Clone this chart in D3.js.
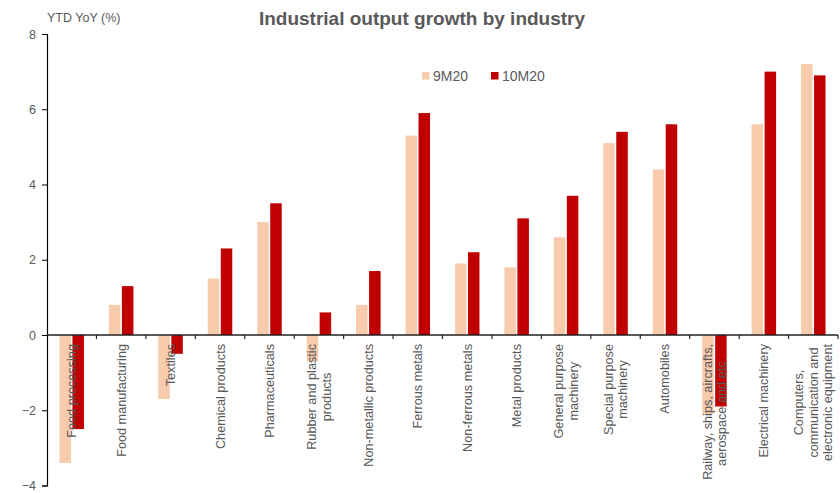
<!DOCTYPE html>
<html>
<head>
<meta charset="utf-8">
<script src="https://cdn.jsdelivr.net/npm/d3@7"></script>
<style>
  html, body { margin: 0; padding: 0; background: #fff; }
  svg { display: block; font-family: "Liberation Sans", Arial, sans-serif; }
</style>
</head>
<body>
<svg id="chart" width="840" height="493"></svg>
<script>
// Industry categories (line breaks split with "|")
const categories = [
  "Food processing",
  "Food manufacturing",
  "Textiles",
  "Chemical products",
  "Pharmaceuticals",
  "Rubber and plastic|products",
  "Non-metallic products",
  "Ferrous metals",
  "Non-ferrous metals",
  "Metal products",
  "General purpose|machinery",
  "Special purpose|machinery",
  "Automobiles",
  "Railway, ships, aircrafts,|aerospace and etc.",
  "Electrical machinery",
  "Computers,|communication and|electronic equipment"
];
const seriesNames = ["9M20", "10M20"];
const values9M20 = [-3.4, 0.8, -1.7, 1.5, 3.0, -0.7, 0.8, 5.3, 1.9, 1.8, 2.6, 5.1, 4.4, -2.1, 5.6, 7.2];
const values10M20 = [-2.5, 1.3, -0.5, 2.3, 3.5, 0.6, 1.7, 5.9, 2.2, 3.1, 3.7, 5.4, 5.6, -1.9, 7.0, 6.9];
const yTicks = [-4, -2, 0, 2, 4, 6, 8];
const colors = { "9M20": "#F8CBAD", "10M20": "#C00000" };

const svg = d3.select("#chart");
const textGray = "#595959";
const plot = { left: 47, right: 838, top: 34, bottom: 485.5 };

const x = d3.scaleBand().domain(categories).range([plot.left, plot.right]).padding(0);
const xInner = d3.scaleBand().domain(seriesNames).range([0, x.bandwidth()])
  .paddingInner(0.115).paddingOuter(0.96);
const y = d3.scaleLinear().domain([-4, 8]).range([plot.bottom, plot.top]);

const rows = categories.map((c, i) => ({
  cat: c,
  vals: [
    { key: "9M20", v: values9M20[i] },
    { key: "10M20", v: values10M20[i] }
  ]
}));

// Bars
const groups = svg.append("g").selectAll("g").data(rows).join("g")
  .attr("transform", d => `translate(${x(d.cat)},0)`);
groups.selectAll("rect").data(d => d.vals).join("rect")
  .attr("x", d => xInner(d.key))
  .attr("width", xInner.bandwidth())
  .attr("y", d => y(Math.max(0, d.v)))
  .attr("height", d => Math.abs(y(d.v) - y(0)))
  .attr("fill", d => colors[d.key]);

// Y axis
const yAxis = svg.append("g")
  .attr("transform", `translate(${plot.left},0)`)
  .call(d3.axisLeft(y).tickValues(yTicks).tickSize(5).tickPadding(6).tickFormat(d3.format("d")));
yAxis.select(".domain").attr("stroke", "#000").attr("stroke-width", 1.2);
yAxis.selectAll(".tick line").attr("stroke", "#000");
yAxis.selectAll(".tick text").attr("fill", textGray).attr("font-size", 12.5)
  .attr("font-family", "Liberation Sans, Arial, sans-serif");

// X axis along zero, ticks at category boundaries
const xAxisG = svg.append("g").attr("transform", `translate(0,${y(0)})`);
xAxisG.append("line")
  .attr("x1", plot.left).attr("x2", plot.right)
  .attr("stroke", "#222").attr("stroke-width", 1.5);
xAxisG.selectAll("line.tick").data(categories.slice(1).concat(["__end"]))
  .join("line").attr("class", "tick")
  .attr("x1", (d, i) => plot.left + (i + 1) * x.step())
  .attr("x2", (d, i) => plot.left + (i + 1) * x.step())
  .attr("y1", 0).attr("y2", 4)
  .attr("stroke", "#222").attr("stroke-width", 1.2);

// Rotated category labels, lines centred on one another
const labelTop = y(0) + 9;
const lineGap = 14.5;
const labels = svg.append("g").selectAll("text").data(categories).join("text")
  .attr("fill", textGray)
  .attr("font-size", 12.7)
  .attr("text-anchor", "middle");
labels.each(function (d) {
  const t = d3.select(this);
  const lines = d.split("|");
  lines.forEach(l => t.append("tspan").text(l));
  let maxLen = 0;
  t.selectAll("tspan").each(function () {
    maxLen = Math.max(maxLen, this.getComputedTextLength());
  });
  const cx = x(d) + x.bandwidth() / 2;
  const cy = labelTop + maxLen / 2;
  const n = lines.length;
  t.attr("transform", `translate(${cx},${cy}) rotate(-90)`);
  t.selectAll("tspan")
    .attr("x", 0)
    .attr("y", (l, i) => (i - (n - 1) / 2) * lineGap + 4.5);
});

// Title
svg.append("text")
  .attr("x", 422).attr("y", 25)
  .attr("text-anchor", "middle")
  .attr("font-size", 19).attr("font-weight", "bold")
  .attr("fill", textGray)
  .text("Industrial output growth by industry");

// Y axis title
svg.append("text")
  .attr("x", 47).attr("y", 22)
  .attr("font-size", 12.5)
  .attr("fill", textGray)
  .text("YTD YoY (%)");

// Legend
const legend = svg.append("g").attr("transform", "translate(422,72)");
const legendItems = legend.selectAll("g").data(seriesNames).join("g")
  .attr("transform", (d, i) => `translate(${i * 69},0)`);
legendItems.append("rect")
  .attr("width", 7.5).attr("height", 7.5)
  .attr("fill", d => colors[d]);
legendItems.append("text")
  .attr("x", 11).attr("y", 8.5)
  .attr("font-size", 14)
  .attr("fill", textGray)
  .text(d => d);
</script>
</body>
</html>
